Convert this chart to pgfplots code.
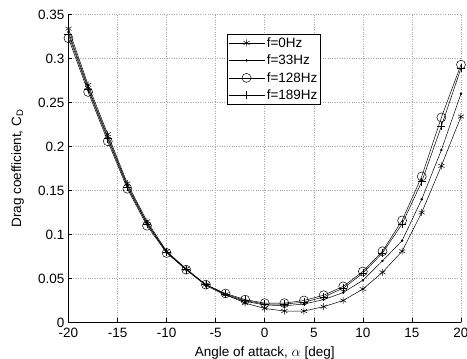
\documentclass[border=0pt]{standalone}
\usepackage{fontspec}
\setmainfont{Liberation Sans}
\usepackage{pgfplots}
\pgfplotsset{compat=1.18}
\begin{document}
\begin{tikzpicture}
\begin{axis}[
  scale only axis,
  width=392.5pt, height=308pt,
  xmin=-20, xmax=20, ymin=0, ymax=0.35,
  axis x line*=bottom, axis y line*=left,
  axis line style={black, line width=0.6pt},
  xtick={-20,-15,...,20},
  xticklabels={-20,-15,-10,-5,0,5,10,15,20},
  ytick={0,0.05,0.1,0.15,0.2,0.25,0.3,0.35},
  yticklabels={0,0.05,0.1,0.15,0.2,0.25,0.3,0.35},
  tick align=inside,
  major tick length=4pt,
  tick style={black, line width=0.5pt},
  ticklabel style={font=\fontsize{13.5}{15}\selectfont},
  xticklabel style={yshift=-2.5pt},
  yticklabel style={xshift=-0.5pt},
  label style={font=\fontsize{13.5}{15}\selectfont},
  xlabel={Angle of attack, $\alpha$ [deg]},
  ylabel={Drag coefficient, C$_\mathrm{D}$},
  xlabel style={at={(axis description cs:0.5,0)}, anchor=base, yshift=-34pt},
  ylabel style={at={(axis description cs:-0.121,0.5)}, anchor=base},
  grid=major,
  major grid style={dotted, gray!70, line width=0.5pt},
  clip=false,
  every axis plot/.append style={black, line width=0.5pt},
  legend style={at={(0.4038,0.9367)}, anchor=north west, draw=black, line width=0.6pt,
    font=\fontsize{13.5}{15}\selectfont, inner sep=1pt, row sep=2.2pt,
    cells={anchor=west}},
  legend image code/.code={\draw[mark repeat=2,mark phase=2,#1] plot coordinates {(0pt,0pt)(18pt,0pt)(36pt,0pt)};},
]
\addplot[mark=asterisk, mark size=3.5pt, mark options={line width=0.5pt}] coordinates {
(-20,0.334)(-18,0.270)(-16,0.214)(-14,0.158)(-12,0.115)(-10,0.081)(-8,0.061)(-6,0.043)(-4,0.032)(-2,0.022)(0,0.016)(2,0.013)(4,0.013)(6,0.018)(8,0.025)(10,0.038)(12,0.057)(14,0.081)(16,0.125)(18,0.178)(20,0.234)};
\addlegendentry{f=0Hz}
\addplot[mark=*, mark size=1pt] coordinates {
(-20,0.330)(-18,0.267)(-16,0.211)(-14,0.156)(-12,0.113)(-10,0.080)(-8,0.060)(-6,0.042)(-4,0.031)(-2,0.024)(0,0.020)(2,0.019)(4,0.021)(6,0.026)(8,0.034)(10,0.048)(12,0.070)(14,0.093)(16,0.140)(18,0.196)(20,0.260)};
\addlegendentry{f=33Hz}
\addplot[mark=o, mark size=4.5pt, mark options={line width=0.5pt}] coordinates {
(-20,0.323)(-18,0.262)(-16,0.206)(-14,0.152)(-12,0.110)(-10,0.079)(-8,0.060)(-6,0.043)(-4,0.033)(-2,0.026)(0,0.022)(2,0.022)(4,0.025)(6,0.031)(8,0.041)(10,0.058)(12,0.081)(14,0.116)(16,0.166)(18,0.233)(20,0.293)};
\addlegendentry{f=128Hz}
\addplot[mark=+, mark size=4pt, mark options={line width=0.5pt}] coordinates {
(-20,0.327)(-18,0.265)(-16,0.209)(-14,0.154)(-12,0.112)(-10,0.080)(-8,0.060)(-6,0.043)(-4,0.032)(-2,0.025)(0,0.021)(2,0.021)(4,0.023)(6,0.029)(8,0.039)(10,0.056)(12,0.079)(14,0.112)(16,0.160)(18,0.223)(20,0.289)};
\addlegendentry{f=189Hz}
\end{axis}
\pgfresetboundingbox
\path (-68.5pt,-36.3pt) rectangle (398.5pt,322.5pt);
\end{tikzpicture}
\end{document}
